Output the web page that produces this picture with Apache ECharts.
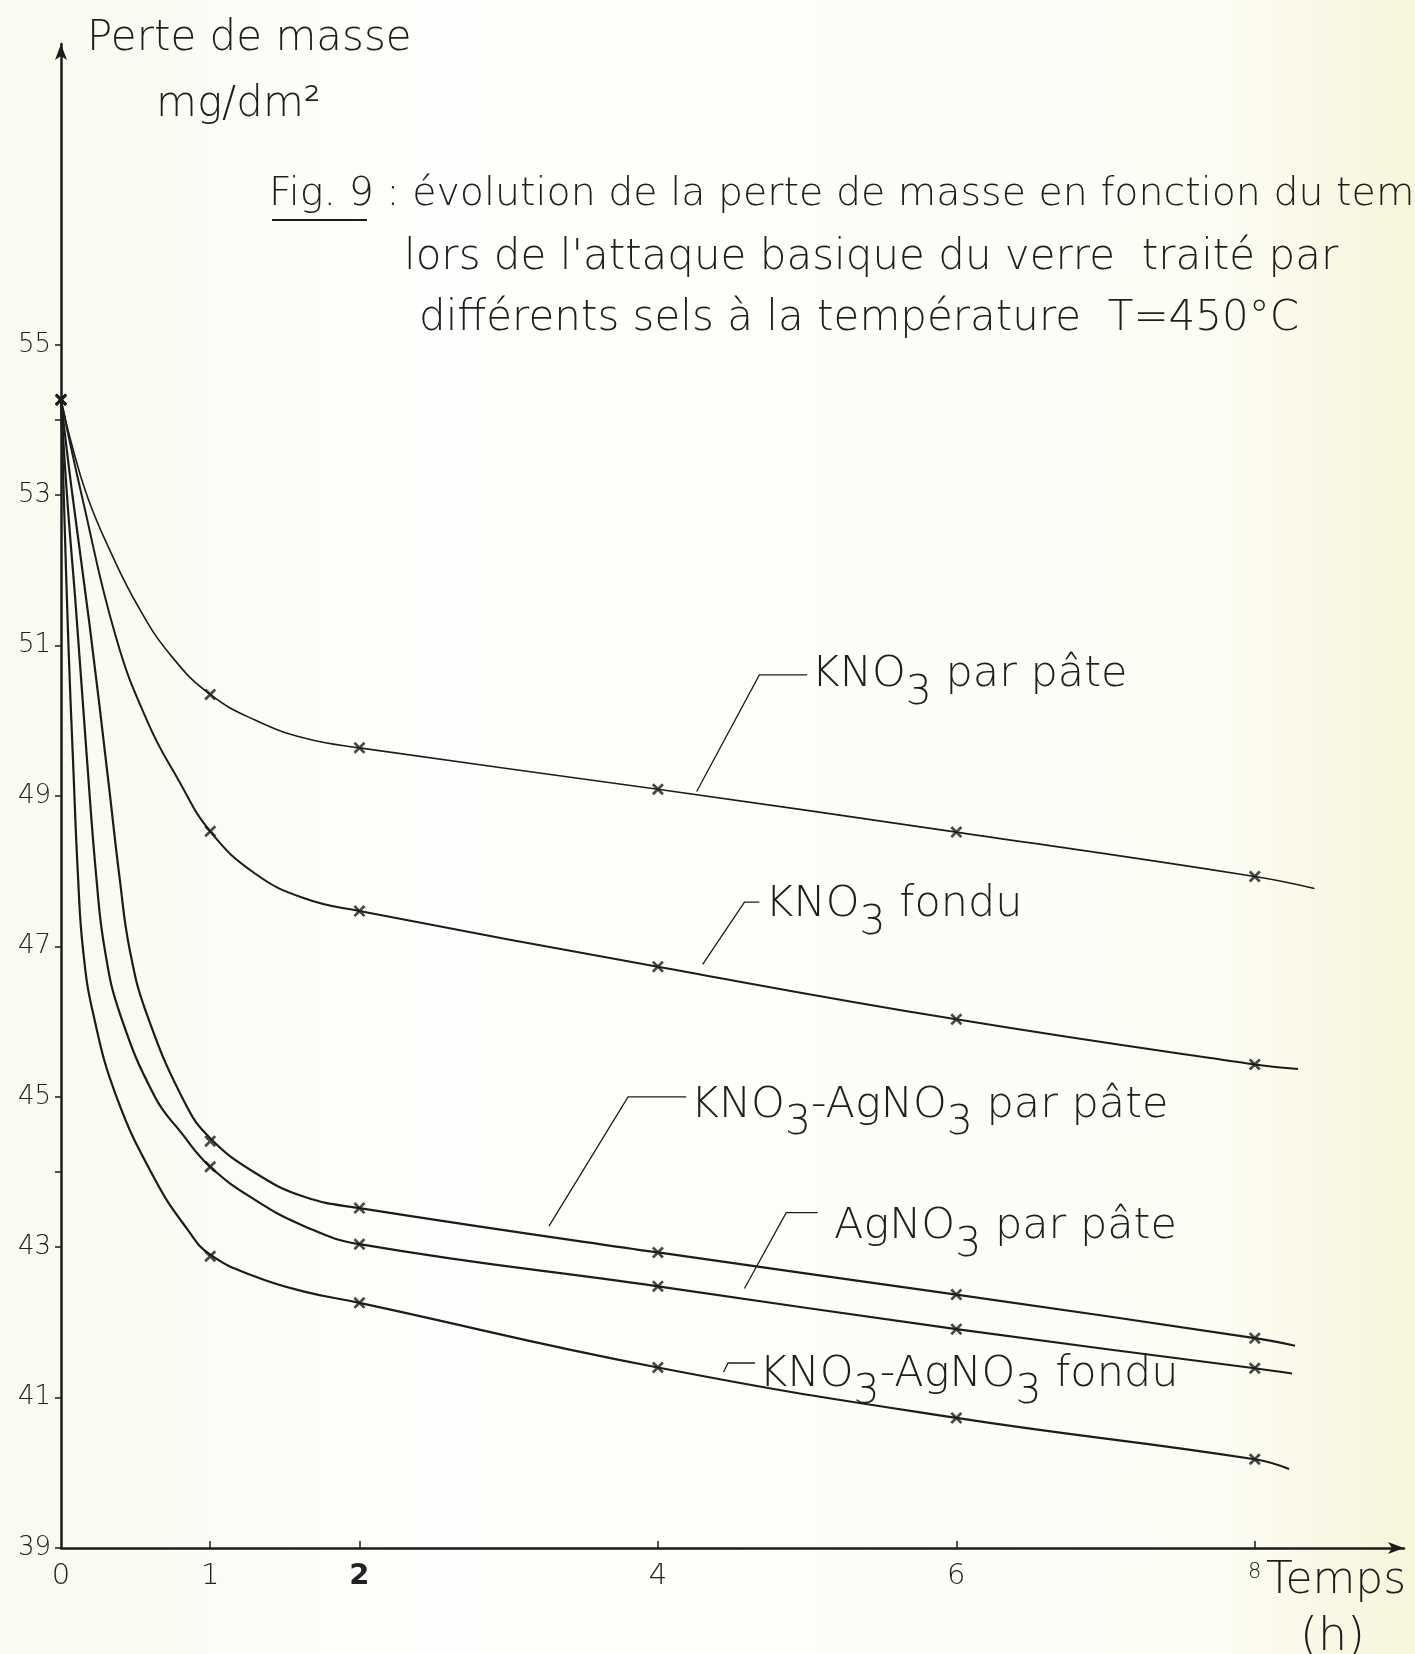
<!DOCTYPE html>
<html>
<head>
<meta charset="utf-8">
<title>Fig. 9</title>
<script src="https://cdn.jsdelivr.net/npm/echarts@6/dist/echarts.min.js"></script>
<style>
  html, body { margin: 0; padding: 0; background: #fdfdf8; }
  #chart { width: 1415px; height: 1654px; }
</style>
</head>
<body>
<div id="chart"></div>
<script>
// axes
const hourLabels = [0, 1, 2, 4, 6, 8]
const hourTicks = [1, 2, 4, 6, 8]
const massLabels = [39, 41, 43, 45, 47, 49, 51, 53, 55]
const massTicks = [39, 41, 43, 44, 45, 47, 49, 51, 53, 54, 55]

// points mesurés (croix)
const measuredHours = [0, 1, 2, 4, 6, 8]
const kno3Pate = [54.27, 50.35, 49.64, 49.09, 48.52, 47.93]
const kno3Fondu = [54.27, 48.53, 47.47, 46.73, 46.03, 45.43]
const kno3AgPate = [54.27, 44.41, 43.52, 42.93, 42.37, 41.79]
const agno3Pate = [54.27, 44.07, 43.04, 42.48, 41.91, 41.39]
const kno3AgFondu = [54.27, 42.88, 42.26, 41.40, 40.73, 40.18]

// courbes tracées à la main [h, mg/dm2]
const kno3PateCurve = [[0, 54.27], [0.07, 53.69], [0.177, 52.98], [0.32, 52.3], [0.517, 51.52], [0.74, 50.86], [1, 50.35], [1.30, 50.01], [1.63, 49.77], [2, 49.64], [4, 49.09], [6, 48.52], [8, 47.93], [8.4, 47.77]]
const kno3FonduCurve = [[0, 54.27], [0.141, 52.98], [0.37, 51.1], [0.584, 49.97], [0.785, 49.22], [1, 48.53], [1.30, 47.97], [1.63, 47.64], [2, 47.47], [4, 46.73], [6, 46.03], [8, 45.43], [8.29, 45.37]]
const kno3AgPateCurve = [[0, 54.27], [0.07, 53.1], [0.19, 51.3], [0.316, 49.22], [0.394, 47.89], [0.461, 46.95], [0.573, 46.11], [0.83, 44.92], [1, 44.45], [1.30, 43.99], [1.63, 43.67], [2, 43.52], [4, 42.93], [6, 42.37], [8, 41.79], [8.27, 41.69]]
const agno3PateCurve = [[0, 54.27], [0.04, 53.0], [0.10, 51.5], [0.17, 49.6], [0.238, 47.89], [0.294, 46.95], [0.394, 46.11], [0.629, 45.0], [0.807, 44.52], [1, 44.07], [1.30, 43.63], [1.63, 43.28], [2, 43.04], [4, 42.48], [6, 41.91], [8, 41.39], [8.25, 41.32]]
const kno3AgFonduCurve = [[0, 54.27], [0.02, 52.9], [0.05, 51.0], [0.08, 49.5], [0.115, 47.89], [0.148, 46.95], [0.215, 46.11], [0.372, 45.0], [0.63, 43.9], [0.85, 43.23], [1, 42.9], [1.30, 42.61], [1.63, 42.41], [2, 42.26], [4, 41.40], [6, 40.73], [8, 40.18], [8.23, 40.05]]

const FONT = 'DejaVu Sans'
const INK = '#1c1c1c'
const CROSS = 'path://M0,1.6L1.6,0L5,3.4L8.4,0L10,1.6L6.6,5L10,8.4L8.4,10L5,6.6L1.6,10L0,8.4L3.4,5Z'

const chart = echarts.init(document.getElementById('chart'))

const curveSeries = (name, data, width) => ({
  name,
  type: 'line',
  data,
  smooth: 0.45,
  showSymbol: false,
  silent: true,
  lineStyle: { color: INK, width: width || 2 }
})

const crossSeries = (name, values) => ({
  name: name + ' mesures',
  type: 'scatter',
  data: measuredHours.map((h, i) => [h, values[i]]),
  symbol: CROSS,
  symbolSize: 12,
  itemStyle: { color: INK }
})

chart.setOption({
  backgroundColor: {
    type: 'linear', x: 0, y: 0, x2: 1, y2: 0,
    colorStops: [
      { offset: 0, color: '#fafaf0' },
      { offset: 0.3, color: '#fefefc' },
      { offset: 0.85, color: '#fdfdf6' },
      { offset: 1, color: '#f7f5da' }
    ]
  },
  animation: false,
  textStyle: { fontFamily: FONT },
  grid: { left: 61, right: 11, top: 44, bottom: 106 },
  xAxis: {
    type: 'value',
    min: 0,
    max: 9,
    axisLine: {
      lineStyle: { color: INK, width: 2.5 },
      symbol: ['none', 'arrow'],
      symbolSize: [9, 16]
    },
    axisTick: { customValues: hourTicks, inside: true, length: 7, lineStyle: { color: INK, width: 1.5 } },
    axisLabel: {
      customValues: hourLabels,
      margin: 14,
      color: '#222',
      fontSize: 29,
      fontFamily: FONT,
      fontWeight: 200,
      formatter: v => (v === 2 ? '{b|2}' : v === 8 ? '{s|8}' : String(v)),
      rich: {
        b: { fontSize: 29, fontWeight: 'bold', fontFamily: FONT, color: '#222' },
        s: { fontSize: 21, fontFamily: FONT, color: '#222', padding: [0, 0, 12, 0] }
      }
    },
    splitLine: { show: false }
  },
  yAxis: {
    type: 'value',
    min: 39,
    max: 59,
    axisLine: {
      lineStyle: { color: INK, width: 2.5 },
      symbol: ['none', 'arrow'],
      symbolSize: [9, 16]
    },
    axisTick: { customValues: massTicks, length: 6, lineStyle: { color: INK, width: 1.5 } },
    axisLabel: {
      customValues: massLabels,
      margin: 10,
      color: '#222',
      fontSize: 26,
      fontFamily: FONT,
      fontWeight: 200
    },
    splitLine: { show: false }
  },
  series: [
    curveSeries('KNO3 par pâte', kno3PateCurve, 1.6),
    curveSeries('KNO3 fondu', kno3FonduCurve, 2),
    curveSeries('KNO3-AgNO3 par pâte', kno3AgPateCurve, 2.2),
    curveSeries('AgNO3 par pâte', agno3PateCurve, 2.2),
    curveSeries('KNO3-AgNO3 fondu', kno3AgFonduCurve, 2.2),
    crossSeries('KNO3 par pâte', kno3Pate),
    crossSeries('KNO3 fondu', kno3Fondu),
    crossSeries('KNO3-AgNO3 par pâte', kno3AgPate),
    crossSeries('AgNO3 par pâte', agno3Pate),
    crossSeries('KNO3-AgNO3 fondu', kno3AgFondu)
  ]
})

// étiquettes des courbes : point sur la courbe, coude, fin du trait, début du texte (en h, mg/dm2)
const annotations = [
  { text: '{n|KNO}{s|3}{n| par pâte}', anchor: [4.26, 49.06], elbow: [4.68, 50.61], end: [5.0, 50.61], at: [5.03, 50.56] },
  { text: '{n|KNO}{s|3}{n| fondu}', anchor: [4.30, 46.76], elbow: [4.58, 47.59], end: [4.68, 47.59], at: [4.72, 47.50] },
  { text: '{n|KNO}{s|3}{n|-AgNO}{s|3}{n| par pâte}', anchor: [3.27, 43.28], elbow: [3.80, 45.0], end: [4.19, 45.0], at: [4.22, 44.84] },
  { text: '{n|AgNO}{s|3}{n| par pâte}', anchor: [4.58, 42.45], elbow: [4.86, 43.46], end: [5.07, 43.46], at: [5.18, 43.22] },
  { text: '{n|KNO}{s|3}{n|-AgNO}{s|3}{n| fondu}', anchor: [4.44, 41.34], elbow: [4.47, 41.46], end: [4.65, 41.46], at: [4.68, 41.26] }
]

const px = p => chart.convertToPixel({ gridIndex: 0 }, p)
const labelFont = { fontFamily: FONT, fontWeight: 200, fill: '#1e1e1e' }
const graphics = []

annotations.forEach(a => {
  graphics.push({
    type: 'polyline',
    shape: { points: [px(a.anchor), px(a.elbow), px(a.end)] },
    style: { stroke: INK, lineWidth: 1.3, fill: 'none' },
    silent: true
  })
  const p = px(a.at)
  graphics.push({
    type: 'text',
    x: p[0],
    y: p[1] - 25,
    style: {
      text: a.text,
      ...labelFont,
      fontSize: 43,
      rich: {
        n: { ...labelFont, fontSize: 43, verticalAlign: 'top' },
        s: { ...labelFont, fontSize: 41, verticalAlign: 'top', padding: [19, 0, 0, 0] }
      }
    },
    silent: true
  })
})

// titres
const texts = [
  { text: 'Perte de masse', x: 87, y: 18, size: 42 },
  { text: 'mg/dm²', x: 156, y: 84, size: 42 },
  { text: 'Fig. 9 : évolution de la perte de masse en fonction du tem', x: 269, y: 175, size: 39.5 },
  { text: "lors de l'attaque basique du verre  traité par", x: 404, y: 237, size: 42 },
  { text: 'différents sels à la température  T=450°C', x: 419, y: 298, size: 42 },
  { text: 'Temps', x: 1266, y: 1560, size: 44 },
  { text: '(h)', x: 1300, y: 1615, size: 46 }
]
texts.forEach(t => {
  graphics.push({
    type: 'text',
    x: t.x,
    y: t.y,
    style: { text: t.text, ...labelFont, fontSize: t.size },
    silent: true
  })
})
graphics.push({
  type: 'line',
  shape: { x1: 272, y1: 220, x2: 367, y2: 220 },
  style: { stroke: INK, lineWidth: 2 },
  silent: true
})

chart.setOption({ graphic: graphics })
</script>
</body>
</html>
